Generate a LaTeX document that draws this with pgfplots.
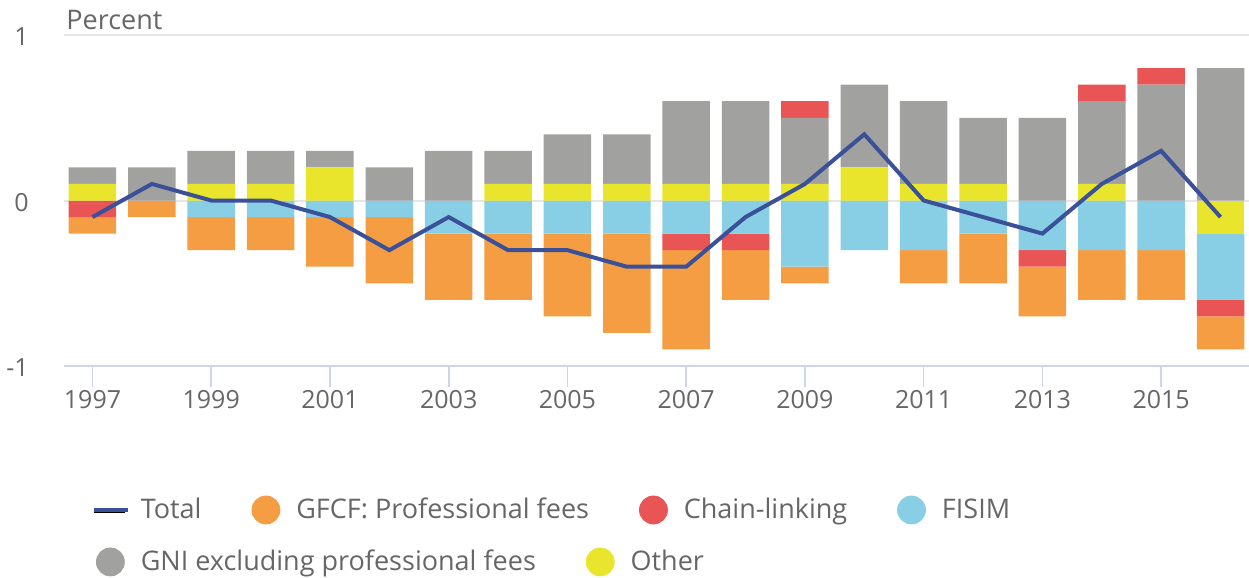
\documentclass[border=0pt]{standalone}
\usepackage{pgfplots}
\usepackage{pgfplotstable}
\pgfplotsset{compat=1.18}
\usepackage{fontspec}
\setmainfont{Open Sans}

\definecolor{cOrange}{HTML}{F59D43}
\definecolor{cRed}{HTML}{E95455}
\definecolor{cBlue}{HTML}{88CFE5}
\definecolor{cGray}{HTML}{A1A1A0}
\definecolor{cYellow}{HTML}{E9E42C}
\definecolor{cNavy}{HTML}{3A5199}
\definecolor{cGrid}{HTML}{E6E6E6}
\definecolor{cAxis}{HTML}{CCD6EB}
\definecolor{cText}{HTML}{666666}

% contributions split into the part above and below zero
\pgfplotstableread{
year otherP gni chainP otherN fisim chainN gfcf total
1997 0.1 0.1 0   0    0    -0.1 -0.1 -0.1
1998 0   0.2 0   0    0     0   -0.1  0.1
1999 0.1 0.2 0   0   -0.1   0   -0.2  0
2000 0.1 0.2 0   0   -0.1   0   -0.2  0
2001 0.2 0.1 0   0   -0.1   0   -0.3 -0.1
2002 0   0.2 0   0   -0.1   0   -0.4 -0.3
2003 0   0.3 0   0   -0.2   0   -0.4 -0.1
2004 0.1 0.2 0   0   -0.2   0   -0.4 -0.3
2005 0.1 0.3 0   0   -0.2   0   -0.5 -0.3
2006 0.1 0.3 0   0   -0.2   0   -0.6 -0.4
2007 0.1 0.5 0   0   -0.2  -0.1 -0.6 -0.4
2008 0.1 0.5 0   0   -0.2  -0.1 -0.3 -0.1
2009 0.1 0.4 0.1 0   -0.4   0   -0.1  0.1
2010 0.2 0.5 0   0   -0.3   0    0    0.4
2011 0.1 0.5 0   0   -0.3   0   -0.2  0
2012 0.1 0.4 0   0   -0.2   0   -0.3 -0.1
2013 0   0.5 0   0   -0.3  -0.1 -0.3 -0.2
2014 0.1 0.5 0.1 0   -0.3   0   -0.3  0.1
2015 0   0.7 0.1 0   -0.3   0   -0.3  0.3
2016 0   0.8 0  -0.2 -0.4  -0.1 -0.2 -0.1
}\datatable

\pgfplotsset{
  base/.style={
    scale only axis, width=592.5pt, height=165.5pt,
    at={(32pt,-183pt)}, anchor=south west,
    xmin=1996.52, xmax=2016.48, ymin=-1, ymax=1,
  },
  leg/.style={
    legend columns=-1,
    legend style={draw=none, fill=none, inner sep=0pt, outer sep=0pt,
      text=cText, font=\fontsize{13.5pt}{16pt}\selectfont,
      nodes={inner sep=0pt},
      /tikz/every odd column/.append style={column sep=8pt},
      /tikz/every even column/.append style={column sep=25pt}},
    legend cell align=left,
  },
}

\begin{document}
\begin{tikzpicture}[font=\fontsize{12.5pt}{15pt}\selectfont]
\useasboundingbox (0,0) rectangle (624.5pt,-289pt);

% negative parts, with the visible axis
\begin{axis}[base,
  ybar stacked, bar width=0.8,
  axis x line*=bottom, axis y line*=left,
  x axis line style={cAxis, line width=1pt, -},
  y axis line style={draw=none},
  ytick={-1,0,1}, yticklabels={-1,0,1},
  ymajorgrids, grid style={cGrid, line width=1pt},
  ytick style={draw=none},
  xtick={1997,1999,...,2015},
  xticklabels={1997,1999,2001,2003,2005,2007,2009,2011,2013,2015},
  xtick style={cAxis, line width=0.8pt},
  xtick align=outside, major tick length=10.5pt,
  tick label style={text=cText},
  xticklabel style={anchor=north, inner sep=0pt, yshift=-1.5pt},
  yticklabel style={anchor=east, inner sep=0pt, xshift=-17.5pt, yshift=-1pt},
]
\addplot[fill=cYellow, draw=none] table[x=year, y=otherN] {\datatable};
\addplot[fill=cBlue, draw=none] table[x=year, y=fisim] {\datatable};
\addplot[fill=cRed, draw=none] table[x=year, y=chainN] {\datatable};
\addplot[fill=cOrange, draw=none] table[x=year, y=gfcf] {\datatable};
\end{axis}

% positive parts
\begin{axis}[base, hide axis, ybar stacked, bar width=0.8, leg,
  legend style={at={(0.027,-0.592)}, anchor=west}]
\addplot[fill=cYellow, draw=none, forget plot] table[x=year, y=otherP] {\datatable};
\addplot[fill=cGray, draw=none, forget plot] table[x=year, y=gni] {\datatable};
\addplot[fill=cRed, draw=none, forget plot] table[x=year, y=chainP] {\datatable};
\addlegendimage{legend image code/.code={\fill[cGray] (7pt,0pt) circle (7pt);}}
\addlegendentry{GNI excluding professional fees}
\addlegendimage{legend image code/.code={\fill[cYellow] (7pt,0pt) circle (7pt);}}
\addlegendentry{Other}
\end{axis}

% total line on top
\begin{axis}[base, hide axis, leg,
  legend style={at={(0.0253,-0.435)}, anchor=west}]
\addplot[cNavy, line width=2pt, no markers, forget plot] table[x=year, y=total] {\datatable};
\addlegendimage{legend image code/.code={\path (0pt,-1pt) rectangle (15pt,1pt);
  \draw[overlay, cNavy, line width=2pt] (0pt,0pt) -- (17pt,0pt);}}
\addlegendentry{Total}
\addlegendimage{legend image code/.code={\fill[cOrange] (7pt,0pt) circle (7pt);}}
\addlegendentry{GFCF: Professional fees}
\addlegendimage{legend image code/.code={\fill[cRed] (7pt,0pt) circle (7pt);}}
\addlegendentry{Chain-linking}
\addlegendimage{legend image code/.code={\fill[cBlue] (7pt,0pt) circle (7pt);}}
\addlegendentry{FISIM}
\end{axis}

\node[anchor=base west, text=cText, inner sep=0pt, font=\fontsize{13.5pt}{16pt}\selectfont] at (33pt,-15pt) {Percent};
\end{tikzpicture}
\end{document}
